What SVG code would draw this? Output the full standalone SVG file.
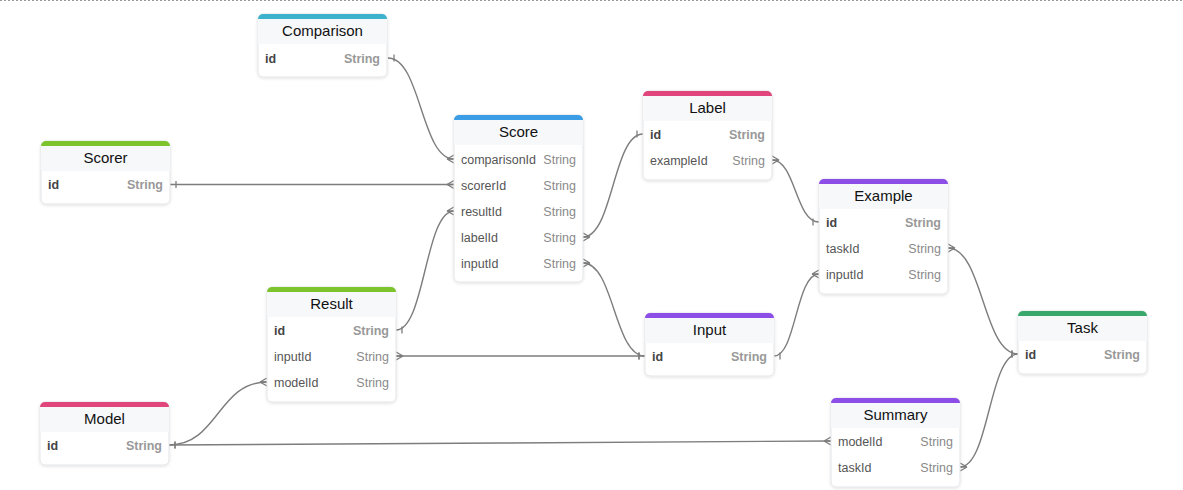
<svg xmlns="http://www.w3.org/2000/svg" xmlns:xlink="http://www.w3.org/1999/xlink" width="1183" height="490" viewBox="0 0 1183 490">
<style>
.card{fill:#fff;stroke:#e3e5e8;stroke-width:1;filter:url(#sh)}
.hdr{fill:#f6f8fa}
.t{font-family:"Liberation Sans",Arial,sans-serif;font-size:15px;fill:#111;text-anchor:middle}
.f{font-family:"Liberation Sans",Arial,sans-serif;font-size:12.5px;fill:#555}
.fb{font-family:"Liberation Sans",Arial,sans-serif;font-size:12.5px;fill:#444;font-weight:bold}
.ty{font-family:"Liberation Sans",Arial,sans-serif;font-size:12.5px;fill:#8a8a8a;text-anchor:end}
.tyb{font-family:"Liberation Sans",Arial,sans-serif;font-size:12.5px;fill:#999;text-anchor:end;font-weight:bold}
.cn{fill:none;stroke:#7d7d7d;stroke-width:1.4}
.m{stroke:#7d7d7d;stroke-width:1.3;fill:none}
</style>
<defs>
<filter id="sh" x="-10%" y="-10%" width="120%" height="130%">
<feDropShadow dx="0" dy="1" stdDeviation="1.5" flood-color="#000" flood-opacity="0.12"/>
</filter>
<path id="hdr" d="M0 5 A5 5 0 0 1 5 0 H124 A5 5 0 0 1 129 5 V30 H0 Z"/>
<path id="bar" d="M0 5 A5 5 0 0 1 5 0 H124 A5 5 0 0 1 129 5 Z"/>
<marker id="manyS" markerUnits="userSpaceOnUse" markerWidth="12" markerHeight="12" refX="0" refY="0" viewBox="-10 -6 12 12" orient="auto-start-reverse" overflow="visible">
<path class="m" d="M-7 0 L0 -4 M-7 0 L0 0 M-7 0 L0 4"/>
</marker>
<marker id="manyE" markerUnits="userSpaceOnUse" markerWidth="12" markerHeight="12" refX="0" refY="0" viewBox="-10 -6 12 12" orient="auto" overflow="visible">
<path class="m" d="M-7 0 L0 -4 M-7 0 L0 0 M-7 0 L0 4"/>
</marker>
<marker id="oneS" markerUnits="userSpaceOnUse" markerWidth="12" markerHeight="12" refX="0" refY="0" viewBox="-10 -6 12 12" orient="auto-start-reverse" overflow="visible">
<path class="m" d="M-6 -3.5 L-6 3.5"/>
</marker>
<marker id="oneE" markerUnits="userSpaceOnUse" markerWidth="12" markerHeight="12" refX="0" refY="0" viewBox="-10 -6 12 12" orient="auto" overflow="visible">
<path class="m" d="M-6 -3.5 L-6 3.5"/>
</marker>
</defs>
<rect width="1183" height="490" fill="#fff"/>
<line x1="0" y1="0.5" x2="1183" y2="0.5" stroke="#999" stroke-width="1" stroke-dasharray="2 2"/>

<g id="connectors">
<path class="cn" d="M388 58 C421 58 421 159 454 159" marker-start="url(#oneS)" marker-end="url(#manyE)"/>
<path class="cn" d="M170 184.5 L454 184.5" marker-start="url(#oneS)" marker-end="url(#manyE)"/>
<path class="cn" d="M396 330 C425 330 425 211 454 211" marker-start="url(#oneS)" marker-end="url(#manyE)"/>
<path class="cn" d="M583 237 C613 237 613 134 643 134" marker-start="url(#manyS)" marker-end="url(#oneE)"/>
<path class="cn" d="M583 263 C614 263 614 356 645 356" marker-start="url(#manyS)" marker-end="url(#oneE)"/>
<path class="cn" d="M772 160 C795.5 160 795.5 222 819 222" marker-start="url(#manyS)" marker-end="url(#oneE)"/>
<path class="cn" d="M774 356 C796 356 796 274 819 274" marker-start="url(#oneS)" marker-end="url(#manyE)"/>
<path class="cn" d="M948 248 C983 248 983 354 1018 354" marker-start="url(#manyS)" marker-end="url(#oneE)"/>
<path class="cn" d="M960 467 C989 467 989 354 1018 354" marker-start="url(#manyS)" marker-end="url(#oneE)"/>
<path class="cn" d="M396 356 L645 356" marker-start="url(#manyS)" marker-end="url(#oneE)"/>
<path class="cn" d="M169 445 C218 445 218 382 267 382" marker-start="url(#oneS)" marker-end="url(#manyE)"/>
<path class="cn" d="M169 445 C500 445 500 441 831 441" marker-start="url(#oneS)" marker-end="url(#manyE)"/>
</g>

<g id="comparison" transform="translate(258,14)">
<rect class="card" width="129" height="63" rx="5"/>
<use href="#hdr" class="hdr"/>
<use href="#bar" fill="#3db2cc"/>
<text class="t" x="64.5" y="17" dy="0.35em">Comparison</text>
<text class="fb" x="7" y="44" dy="0.38em">id</text><text class="tyb" x="122" y="44" dy="0.38em">String</text>
</g>

<g id="score" transform="translate(454,115)">
<rect class="card" width="129" height="167" rx="5"/>
<use href="#hdr" class="hdr"/>
<use href="#bar" fill="#3b9de6"/>
<text class="t" x="64.5" y="17" dy="0.35em">Score</text>
<text class="f" x="7" y="44" dy="0.38em">comparisonId</text><text class="ty" x="122" y="44" dy="0.38em">String</text>
<text class="f" x="7" y="70" dy="0.38em">scorerId</text><text class="ty" x="122" y="70" dy="0.38em">String</text>
<text class="f" x="7" y="96" dy="0.38em">resultId</text><text class="ty" x="122" y="96" dy="0.38em">String</text>
<text class="f" x="7" y="122" dy="0.38em">labelId</text><text class="ty" x="122" y="122" dy="0.38em">String</text>
<text class="f" x="7" y="148" dy="0.38em">inputId</text><text class="ty" x="122" y="148" dy="0.38em">String</text>
</g>

<g id="scorer" transform="translate(41,141)">
<rect class="card" width="129" height="63" rx="5"/>
<use href="#hdr" class="hdr"/>
<use href="#bar" fill="#7dc42c"/>
<text class="t" x="64.5" y="17" dy="0.35em">Scorer</text>
<text class="fb" x="7" y="43.5" dy="0.38em">id</text><text class="tyb" x="122" y="43.5" dy="0.38em">String</text>
</g>

<g id="label" transform="translate(643,91)">
<rect class="card" width="129" height="89" rx="5"/>
<use href="#hdr" class="hdr"/>
<use href="#bar" fill="#e0457b"/>
<text class="t" x="64.5" y="17" dy="0.35em">Label</text>
<text class="fb" x="7" y="43" dy="0.38em">id</text><text class="tyb" x="122" y="43" dy="0.38em">String</text>
<text class="f" x="7" y="69" dy="0.38em">exampleId</text><text class="ty" x="122" y="69" dy="0.38em">String</text>
</g>

<g id="example" transform="translate(819,179)">
<rect class="card" width="129" height="115" rx="5"/>
<use href="#hdr" class="hdr"/>
<use href="#bar" fill="#8d4ee8"/>
<text class="t" x="64.5" y="17" dy="0.35em">Example</text>
<text class="fb" x="7" y="43" dy="0.38em">id</text><text class="tyb" x="122" y="43" dy="0.38em">String</text>
<text class="f" x="7" y="69" dy="0.38em">taskId</text><text class="ty" x="122" y="69" dy="0.38em">String</text>
<text class="f" x="7" y="95" dy="0.38em">inputId</text><text class="ty" x="122" y="95" dy="0.38em">String</text>
</g>

<g id="result" transform="translate(267,287)">
<rect class="card" width="129" height="115" rx="5"/>
<use href="#hdr" class="hdr"/>
<use href="#bar" fill="#7dc42c"/>
<text class="t" x="64.5" y="17" dy="0.35em">Result</text>
<text class="fb" x="7" y="43" dy="0.38em">id</text><text class="tyb" x="122" y="43" dy="0.38em">String</text>
<text class="f" x="7" y="69" dy="0.38em">inputId</text><text class="ty" x="122" y="69" dy="0.38em">String</text>
<text class="f" x="7" y="95" dy="0.38em">modelId</text><text class="ty" x="122" y="95" dy="0.38em">String</text>
</g>

<g id="input" transform="translate(645,313)">
<rect class="card" width="129" height="63" rx="5"/>
<use href="#hdr" class="hdr"/>
<use href="#bar" fill="#8d4ee8"/>
<text class="t" x="64.5" y="17" dy="0.35em">Input</text>
<text class="fb" x="7" y="43" dy="0.38em">id</text><text class="tyb" x="122" y="43" dy="0.38em">String</text>
</g>

<g id="task" transform="translate(1018,311)">
<rect class="card" width="129" height="63" rx="5"/>
<use href="#hdr" class="hdr"/>
<use href="#bar" fill="#3aa86a"/>
<text class="t" x="64.5" y="17" dy="0.35em">Task</text>
<text class="fb" x="7" y="43" dy="0.38em">id</text><text class="tyb" x="122" y="43" dy="0.38em">String</text>
</g>

<g id="model" transform="translate(40,402)">
<rect class="card" width="129" height="63" rx="5"/>
<use href="#hdr" class="hdr"/>
<use href="#bar" fill="#e0457b"/>
<text class="t" x="64.5" y="17" dy="0.35em">Model</text>
<text class="fb" x="7" y="43" dy="0.38em">id</text><text class="tyb" x="122" y="43" dy="0.38em">String</text>
</g>

<g id="summary" transform="translate(831,398)">
<rect class="card" width="129" height="89" rx="5"/>
<use href="#hdr" class="hdr"/>
<use href="#bar" fill="#8d4ee8"/>
<text class="t" x="64.5" y="17" dy="0.35em">Summary</text>
<text class="f" x="7" y="43" dy="0.38em">modelId</text><text class="ty" x="122" y="43" dy="0.38em">String</text>
<text class="f" x="7" y="69" dy="0.38em">taskId</text><text class="ty" x="122" y="69" dy="0.38em">String</text>
</g>
</svg>
